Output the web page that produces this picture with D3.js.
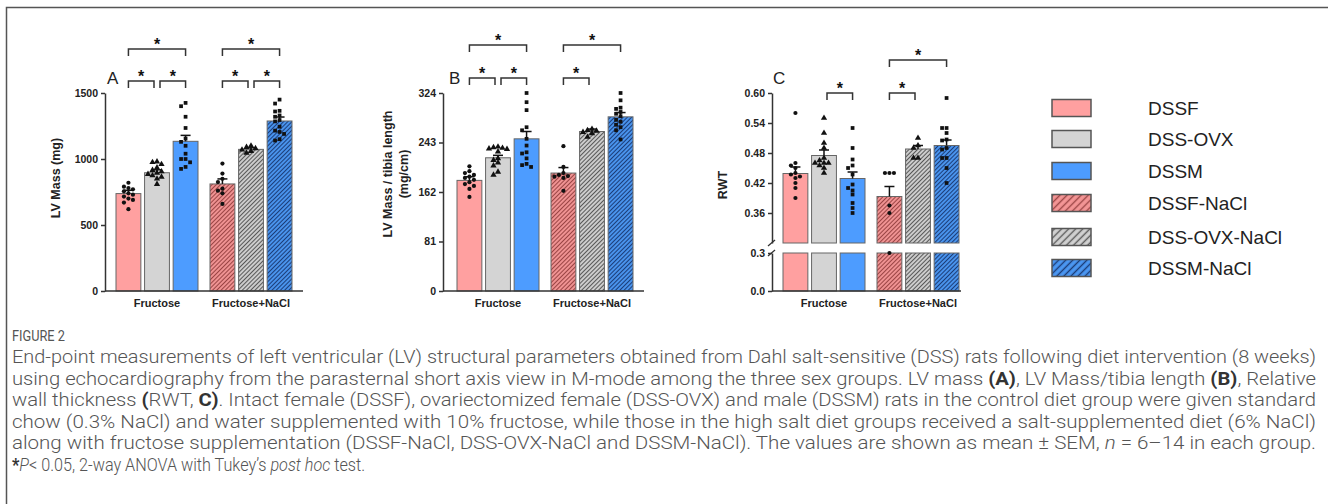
<!DOCTYPE html>
<html>
<head>
<meta charset="utf-8">
<script src="https://cdn.jsdelivr.net/npm/d3@7"></script>
<style>
  body { margin: 0; background: #fff; }
  svg { display: block; font-family: "Liberation Sans", Arial, sans-serif; }
</style>
</head>
<body>
<svg id="fig" width="1328" height="504"></svg>
<script>
'use strict';

// ---- data ----
const diets = ['Fructose', 'Fructose+NaCl'];
const groups = ['DSSF', 'DSS-OVX', 'DSSM', 'DSSF-NaCl', 'DSS-OVX-NaCl', 'DSSM-NaCl'];

// A: LV mass (mg)
const lvMassTicks = [0, 500, 1000, 1500];
const lvMassMean = [738, 896, 1134, 811, 1073, 1288];
const lvMassSem = [25, 22, 45, 38, 12, 30];
const lvMassPoints = [
  [820, 790, 780, 770, 755, 740, 730, 715, 700, 690, 670, 620],
  [980, 975, 960, 935, 915, 905, 895, 885, 875, 865, 850, 810],
  [1425, 1400, 1320, 1235, 1155, 1130, 1100, 1040, 1000, 1000, 975, 940, 925],
  [965, 890, 850, 825, 775, 760, 740, 660],
  [1100, 1090, 1080, 1070, 1060, 1045],
  [1450, 1420, 1365, 1360, 1330, 1320, 1295, 1285, 1245, 1215, 1205, 1190, 1150, 1140]
];
const lvMassSig = [[0, 1], [1, 2], [0, 2], [3, 4], [4, 5], [3, 5]];

// B: LV mass / tibia length (mg/cm)
const lvTibiaTicks = [0, 81, 162, 243, 324];
const lvTibiaMean = [181, 218, 249, 193, 261, 285];
const lvTibiaSem = [6, 4, 12, 9, 4, 7];
const lvTibiaPoints = [
  [204, 196, 193, 190, 187, 185, 182, 178, 175, 172, 167, 154],
  [236, 235, 234, 233, 232, 228, 217, 214, 210, 205, 195, 190],
  [324, 309, 296, 268, 263, 249, 238, 227, 225, 217, 208, 206, 203],
  [237, 203, 193, 190, 188, 187, 185, 164],
  [265, 263, 262, 260, 258, 252],
  [324, 312, 300, 298, 293, 290, 286, 280, 277, 272, 268, 263, 248]
];
const lvTibiaSig = [[0, 1], [1, 2], [0, 2], [3, 4], [3, 5]];

// C: relative wall thickness (broken axis)
const rwtTicksUpper = [0.36, 0.42, 0.48, 0.54, 0.60];
const rwtTicksLower = [0.0, 0.3];
const rwtMean = [0.439, 0.475, 0.429, 0.393, 0.488, 0.495];
const rwtSem = [0.013, 0.011, 0.013, 0.02, 0.007, 0.011];
const rwtPoints = [
  [0.56, 0.46, 0.455, 0.45, 0.44, 0.437, 0.433, 0.43, 0.42, 0.41, 0.39],
  [0.55, 0.52, 0.50, 0.49, 0.47, 0.465, 0.46, 0.46, 0.46, 0.455, 0.45, 0.44],
  [0.53, 0.49, 0.467, 0.455, 0.45, 0.437, 0.417, 0.41, 0.405, 0.397, 0.38, 0.37, 0.36],
  [0.44, 0.44, 0.44, 0.375, 0.36, 0.30],
  [0.51, 0.495, 0.49, 0.47, 0.47],
  [0.59, 0.53, 0.53, 0.52, 0.507, 0.505, 0.49, 0.487, 0.47, 0.47, 0.45, 0.42]
];
const rwtSig = [[1, 2], [3, 4], [3, 5]];

// ---- styles ----
const solid = ['#ffa0a0', '#d4d4d4', '#4d9cff'];
const hatchBase = ['#f49696', '#d2d2d2', '#4b97f2'];
const hatchInk = ['#9a4444', '#585858', '#1c3d78'];
const markers = [d3.symbolCircle, d3.symbolTriangle, d3.symbolSquare];
const markerSize = [14, 17, 14];

const svg = d3.select('#fig');
const defs = svg.append('defs');

function makeHatch(id, base, ink, step, lw) {
  const p = defs.append('pattern')
    .attr('id', id)
    .attr('patternUnits', 'userSpaceOnUse')
    .attr('width', step).attr('height', step)
    .attr('patternTransform', 'rotate(45)');
  p.append('rect').attr('width', step).attr('height', step).attr('fill', base);
  p.append('line')
    .attr('x1', step / 2).attr('x2', step / 2)
    .attr('y1', 0).attr('y2', step)
    .attr('stroke', ink).attr('stroke-width', lw);
}
for (let i = 0; i < 3; i++) {
  makeHatch('hatch' + i, hatchBase[i], hatchInk[i], 3, 1.1);
  makeHatch('lhatch' + i, hatchBase[i], hatchInk[i], 5, 1.4);
}
const fillOf = i => i < 3 ? solid[i] : `url(#hatch${i - 3})`;

// frame around the figure
svg.append('path')
  .attr('d', 'M6.5,504 V7.5 H1328')
  .attr('fill', 'none').attr('stroke', '#555').attr('stroke-width', 1.5);

// ---- one panel ----
function drawPanel(cfg) {
  const g = svg.append('g');
  const x0 = d3.scalePoint().domain(diets).range([cfg.axisX + cfg.c1, cfg.axisX + cfg.c2]);
  const x1 = d3.scaleBand().domain([0, 1, 2]).range([-41, 41]).paddingInner(0.13);
  const bx = i => x0(diets[Math.floor(i / 3)]) + x1(i % 3);
  const bw = x1.bandwidth();
  const cx = i => bx(i) + bw / 2;
  const yOf = v => {
    const s = cfg.segments.find(s => v > s.lo) || cfg.segments[cfg.segments.length - 1];
    return s.scale(v);
  };

  // axes per segment
  cfg.segments.forEach(s => {
    const ax = g.append('g')
      .attr('transform', `translate(${cfg.axisX},0)`)
      .call(d3.axisLeft(s.scale).tickValues(s.ticks).tickFormat(d3.format(s.fmt))
        .tickSize(4).tickSizeOuter(0).tickPadding(3));
    ax.selectAll('path,line').attr('stroke', '#333').attr('stroke-width', 1.5);
    ax.selectAll('text').attr('font-size', 10.5).attr('font-weight', 'bold')
      .attr('fill', '#222').attr('font-family', '"Liberation Sans", Arial, sans-serif');
  });
  // axis break marks
  if (cfg.segments.length > 1) {
    const yb = [cfg.segments[0].scale(cfg.segments[0].lo), cfg.segments[1].scale(cfg.segments[1].hi)];
    yb.forEach(yy => {
      g.append('line')
        .attr('x1', cfg.axisX - 4).attr('y1', yy + 3)
        .attr('x2', cfg.axisX + 3).attr('y2', yy - 3)
        .attr('stroke', '#333').attr('stroke-width', 1.3);
    });
  }

  // bars
  groups.forEach((grp, i) => {
    cfg.segments.forEach(s => {
      if (cfg.mean[i] <= s.lo) return;
      const top = s.scale(Math.min(cfg.mean[i], s.hi));
      const bot = s.scale(s.lo);
      g.append('rect')
        .attr('x', bx(i)).attr('y', top)
        .attr('width', bw).attr('height', bot - top)
        .attr('fill', fillOf(i))
        .attr('stroke', '#666').attr('stroke-width', 1);
    });
  });

  // x axis line
  g.append('line')
    .attr('x1', cfg.axisX).attr('x2', cfg.axisX + cfg.width)
    .attr('y1', cfg.baseY).attr('y2', cfg.baseY)
    .attr('stroke', '#333').attr('stroke-width', 1.5);

  // individual points, spread so they do not overlap
  cfg.points.forEach((vals, i) => {
    const placed = [];
    const sorted = vals.slice().sort((a, b) => b - a);
    const offs = [0, -4.5, 4.5, -9, 9, -13, 13];
    sorted.forEach(v => {
      const py = yOf(v);
      let dx = 0;
      for (const o of offs) {
        if (!placed.some(p => Math.abs(p.y - py) < 4 && Math.abs(p.x - o) < 4.4)) { dx = o; break; }
      }
      placed.push({ x: dx, y: py });
      g.append('path')
        .attr('d', d3.symbol().type(markers[i % 3]).size(markerSize[i % 3])())
        .attr('transform', `translate(${cx(i) + dx},${py})`)
        .attr('fill', '#111');
    });
  });

  // error bars (mean + SEM)
  groups.forEach((grp, i) => {
    const y1 = yOf(cfg.mean[i]);
    const y2 = yOf(cfg.mean[i] + cfg.sem[i]);
    g.append('line').attr('x1', cx(i)).attr('x2', cx(i)).attr('y1', y1).attr('y2', y2)
      .attr('stroke', '#111').attr('stroke-width', 1.5);
    g.append('line').attr('x1', cx(i) - 5).attr('x2', cx(i) + 5).attr('y1', y2).attr('y2', y2)
      .attr('stroke', '#111').attr('stroke-width', 1.5);
  });

  // significance brackets
  cfg.sig.forEach(([a, b]) => {
    const wide = b - a > 1;
    const yy = wide ? cfg.bracketY[1] : cfg.bracketY[0];
    const xa = cx(a) + (!wide && a % 3 === 1 ? 3 : 0);
    const xb = cx(b) - (!wide && b % 3 === 1 ? 3 : 0);
    g.append('path')
      .attr('d', `M${xa},${yy + 7} V${yy} H${xb} V${yy + 7}`)
      .attr('fill', 'none').attr('stroke', '#333').attr('stroke-width', 1.5);
    g.append('text')
      .attr('x', (xa + xb) / 2).attr('y', yy + 0.5)
      .attr('text-anchor', 'middle')
      .attr('font-size', 16).attr('font-weight', 'bold').attr('fill', '#111')
      .text('*');
  });

  // panel letter
  g.append('text')
    .attr('x', cfg.axisX + cfg.letterDx).attr('y', 83.5)
    .attr('font-size', 17).attr('fill', '#222')
    .text(cfg.letter);

  // diet labels
  diets.forEach(d => {
    g.append('text')
      .attr('x', x0(d)).attr('y', 307)
      .attr('text-anchor', 'middle')
      .attr('font-size', 11).attr('font-weight', 'bold').attr('fill', '#222')
      .text(d);
  });

  // y title
  const t = g.append('text')
    .attr('transform', `translate(${cfg.titleX},${cfg.titleY}) rotate(-90)`)
    .attr('text-anchor', 'middle')
    .attr('font-size', 12.5).attr('font-weight', 'bold').attr('fill', '#222');
  cfg.title.forEach((line, k) => {
    t.append('tspan').attr('x', 0).attr('dy', k === 0 ? 0 : 16).text(line);
  });
}

const yA = d3.scaleLinear().domain([0, 1500]).range([291, 93]);
const yB = d3.scaleLinear().domain([0, 324]).range([291, 93]);
const yCup = d3.scaleLinear().domain([0.30, 0.60]).range([243, 93]);
const yClo = d3.scaleLinear().domain([0, 0.3]).range([291, 253]);

drawPanel({
  axisX: 105, width: 198, c1: 52, c2: 146, baseY: 291,
  segments: [{ scale: yA, lo: 0, hi: 1500, ticks: lvMassTicks, fmt: 'd' }],
  mean: lvMassMean, sem: lvMassSem, points: lvMassPoints, sig: lvMassSig,
  bracketY: [81, 49], letter: 'A', letterDx: 2,
  title: ['LV Mass (mg)'], titleX: 60, titleY: 178
});
drawPanel({
  axisX: 443, width: 201, c1: 55, c2: 149, baseY: 291,
  segments: [{ scale: yB, lo: 0, hi: 324, ticks: lvTibiaTicks, fmt: 'd' }],
  mean: lvTibiaMean, sem: lvTibiaSem, points: lvTibiaPoints, sig: lvTibiaSig,
  bracketY: [78, 45], letter: 'B', letterDx: 6,
  title: ['LV Mass / tibia length', '(mg/cm)'], titleX: 392, titleY: 174
});
drawPanel({
  axisX: 772, width: 189, c1: 52, c2: 146, baseY: 291,
  segments: [
    { scale: yCup, lo: 0.30, hi: 0.60, ticks: rwtTicksUpper, fmt: '.2f' },
    { scale: yClo, lo: 0, hi: 0.3, ticks: rwtTicksLower, fmt: '.1f' }
  ],
  mean: rwtMean, sem: rwtSem, points: rwtPoints, sig: rwtSig,
  bracketY: [93, 60], letter: 'C', letterDx: 1,
  title: ['RWT'], titleX: 727, titleY: 185
});

// ---- legend ----
const legY = [108, 139, 171, 203, 237, 268];
const leg = svg.append('g');
groups.forEach((grp, i) => {
  leg.append('rect')
    .attr('x', 1052).attr('y', legY[i] - 8.5)
    .attr('width', 39).attr('height', 17)
    .attr('fill', i < 3 ? solid[i] : `url(#lhatch${i - 3})`)
    .attr('stroke', '#555').attr('stroke-width', 1.5);
  leg.append('text')
    .attr('x', 1148).attr('y', legY[i] + 7)
    .attr('font-size', 19).attr('fill', '#222')
    .text(grp);
});

// ---- caption (narrow glyphs: text squeezed horizontally) ----
const sx = 0.9;
const cap = svg.append('g')
  .attr('transform', `scale(${sx},1)`)
  .attr('font-family', 'Roboto, "Open Sans", "Liberation Sans", sans-serif')
  .attr('font-weight', 300)
  .attr('fill', '#555');
cap.append('text')
  .attr('x', 12 / sx).attr('y', 341.5)
  .attr('font-size', 14.5).attr('fill', '#555').attr('font-weight', 400)
  .attr('textLength', 53 / sx).attr('lengthAdjust', 'spacingAndGlyphs')
  .text('FIGURE 2');

const capLines = [
  [['End-point measurements of left ventricular (LV) structural parameters obtained from Dahl salt-sensitive (DSS) rats following diet intervention (8 weeks)', '']],
  [['using echocardiography from the parasternal short axis view in M-mode among the three sex groups. LV mass ', ''], ['(A)', 'b'], [', LV Mass/tibia length ', ''], ['(B)', 'b'], [', Relative', '']],
  [['wall thickness ', ''], ['(', 'b'], ['RWT, ', ''], ['C)', 'b'], ['. Intact female (DSSF), ovariectomized female (DSS-OVX) and male (DSSM) rats in the control diet group were given standard', '']],
  [['chow (0.3% NaCl) and water supplemented with 10% fructose, while those in the high salt diet groups received a salt-supplemented diet (6% NaCl)', '']],
  [['along with fructose supplementation (DSSF-NaCl, DSS-OVX-NaCl and DSSM-NaCl). The values are shown as mean \u00B1 SEM, ', ''], ['n', 'i'], [' = 6\u201314 in each group.', '']],
  [['*', 'b'], ['P', 'i'], ['< 0.05, 2-way ANOVA with Tukey\u2019s ', ''], ['post hoc', 'i'], [' test.', '']]
];
const capY = [363.5, 385, 406.5, 428, 449.5, 471];
capLines.forEach((parts, k) => {
  const t = cap.append('text')
    .attr('x', 12 / sx).attr('y', capY[k])
    .attr('font-size', 18);
  // justified lines fill the column; the last one keeps its natural width
  if (k < capLines.length - 1) {
    t.attr('textLength', 1304 / sx).attr('lengthAdjust', 'spacingAndGlyphs');
  }
  parts.forEach(([s, st]) => {
    const ts = t.append('tspan').text(s);
    if (st === 'b') ts.attr('font-weight', 'bold').attr('fill', '#333');
    if (st === 'i') ts.attr('font-style', 'italic');
  });
});
</script>
</body>
</html>
